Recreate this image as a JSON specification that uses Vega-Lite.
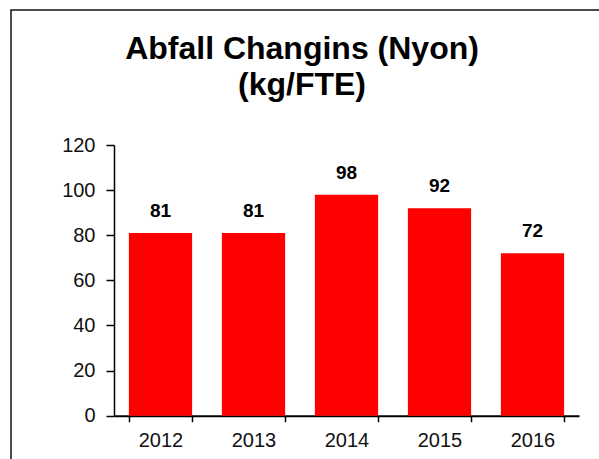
{
  "$schema": "https://vega.github.io/schema/vega-lite/v6.json",
  "width": 600,
  "height": 460,
  "autosize": {"type": "none"},
  "padding": {"left": 11, "top": 10, "right": 0, "bottom": 0},
  "background": "white",
  "config": {
    "view": {"stroke": "#111111", "strokeWidth": 1.5},
    "font": "Liberation Sans"
  },
  "title": {
    "text": ["Abfall Changins (Nyon)", "(kg/FTE)"],
    "anchor": "start",
    "frame": "group",
    "align": "center",
    "dx": 291,
    "offset": -92,
    "fontSize": 32,
    "fontWeight": "bold",
    "font": "Liberation Sans",
    "lineHeight": 36,
    "color": "#000000"
  },
  "data": {
    "values": [
      {"year": "2012", "value": 81},
      {"year": "2013", "value": 81},
      {"year": "2014", "value": 98},
      {"year": "2015", "value": 92},
      {"year": "2016", "value": 72}
    ]
  },
  "encoding": {
    "x": {
      "field": "year",
      "type": "ordinal",
      "scale": {"range": [103, 568], "paddingInner": 0.32, "paddingOuter": 0.16},
      "axis": {
        "title": null,
        "orient": "bottom",
        "offset": -54.3,
        "labelAngle": 0,
        "tickBand": "extent",
        "domainColor": "#000000",
        "domainWidth": 2,
        "tickColor": "#000000",
        "tickWidth": 1.5,
        "tickSize": 6,
        "labelFontSize": 20,
        "labelColor": "#111111",
        "labelPadding": 9
      }
    },
    "y": {
      "field": "value",
      "type": "quantitative",
      "scale": {"domain": [0, 120], "range": [405.7, 135], "nice": false, "zero": true},
      "axis": {
        "title": null,
        "orient": "left",
        "offset": -103,
        "values": [0, 20, 40, 60, 80, 100, 120],
        "grid": false,
        "domainColor": "#000000",
        "domainWidth": 1.5,
        "tickColor": "#000000",
        "tickWidth": 1.5,
        "tickSize": 8,
        "labelFontSize": 20,
        "labelColor": "#111111",
        "labelPadding": 11
      }
    }
  },
  "layer": [
    {"mark": {"type": "bar", "color": "#FF0000"}},
    {
      "mark": {"type": "text", "baseline": "bottom", "dy": -12, "fontSize": 19, "fontWeight": "bold", "color": "#000000"},
      "encoding": {"text": {"field": "value", "type": "quantitative"}}
    }
  ]
}
